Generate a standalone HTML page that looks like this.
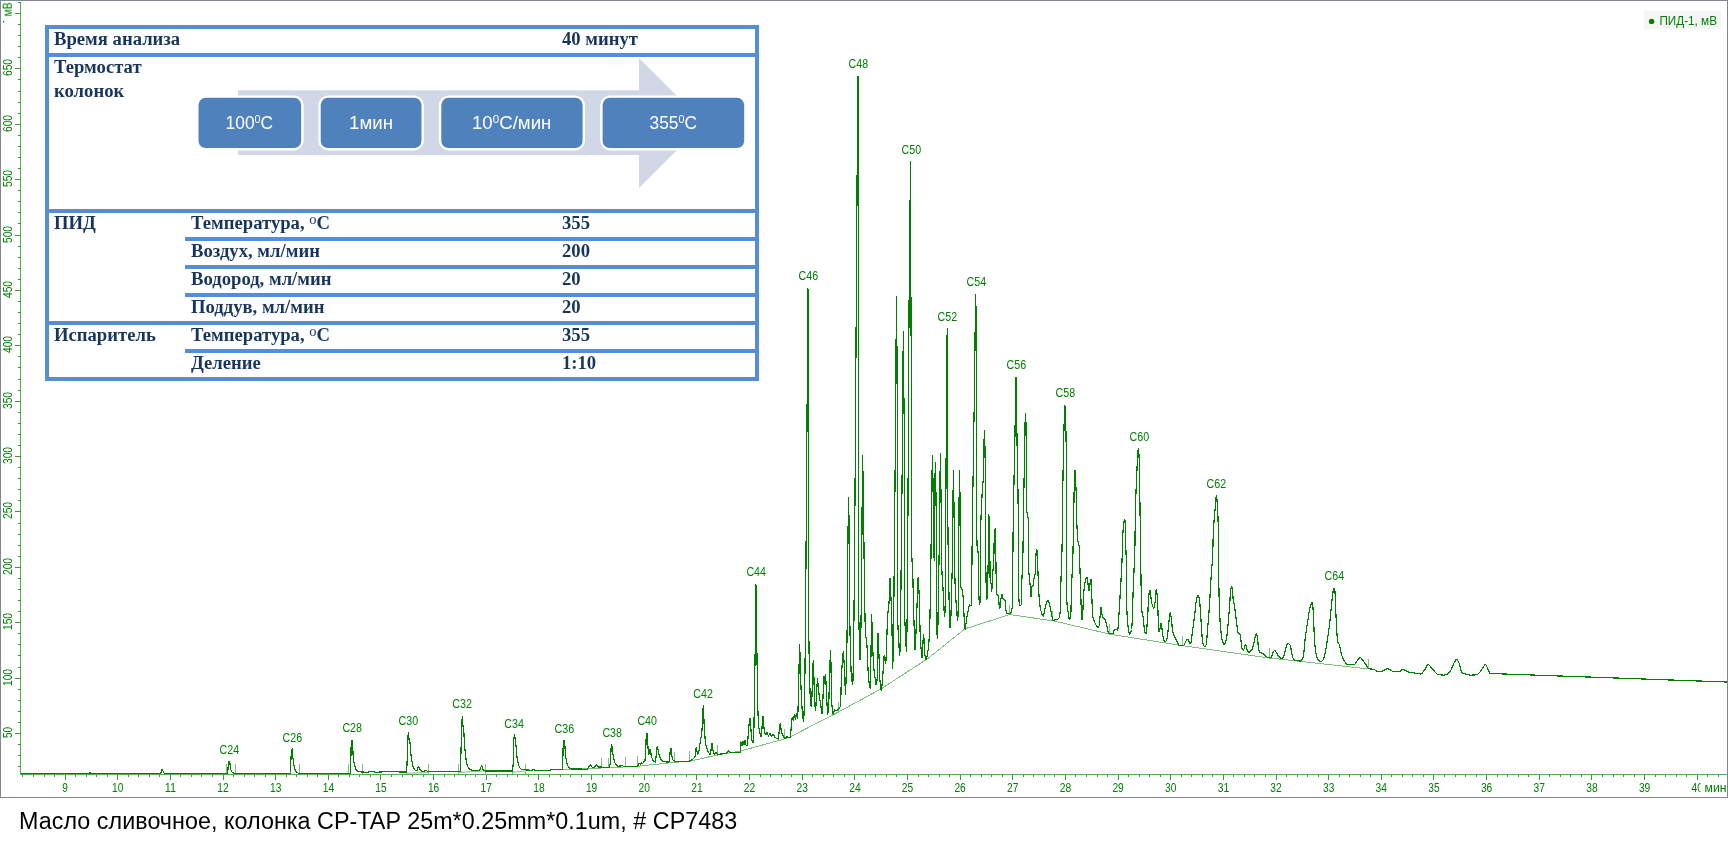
<!DOCTYPE html>
<html lang="ru"><head><meta charset="utf-8"><title>Масло сливочное</title>
<style>
html,body{margin:0;padding:0;background:#fff}
body{width:1728px;height:842px;position:relative;overflow:hidden;font-family:"Liberation Sans",sans-serif}
.abs{position:absolute}
#frame{position:absolute;left:0;top:0;width:1726px;height:796px;border:1px solid #828796;background:#fff}
#chart{position:absolute;left:0;top:0;will-change:transform}
.b{position:absolute;background:#558ed5}
.t{will-change:transform;position:absolute;font-family:"Liberation Serif",serif;font-weight:bold;font-size:18.67px;line-height:24px;color:#17365d;white-space:nowrap}
.dg{font-size:14.5px;font-weight:normal;position:relative;top:-5px}
#cap{will-change:transform;position:absolute;left:18.6px;top:806px;font-size:23.3px;line-height:30px;color:#000;white-space:nowrap;letter-spacing:0.045px}
</style></head><body>
<div id="frame"></div>
<svg id="chart" width="1728" height="842" viewBox="0 0 1728 842">
<g stroke="#359935" stroke-width="1" shape-rendering="crispEdges" fill="none">
<line x1="20.5" y1="2" x2="20.5" y2="774.5" stroke="#58aa58"/>
<line x1="20.5" y1="774.5" x2="1727" y2="774.5" stroke="#58aa58"/>
<path d="M18 766.5H20.5M18 755.5H20.5M18 744.5H20.5M15 733.5H20.5M18 722.5H20.5M18 711.5H20.5M18 700.5H20.5M18 689.5H20.5M15 678.5H20.5M18 667.5H20.5M18 655.5H20.5M18 644.5H20.5M18 633.5H20.5M15 622.5H20.5M18 611.5H20.5M18 600.5H20.5M18 589.5H20.5M18 578.5H20.5M15 567.5H20.5M18 556.5H20.5M18 545.5H20.5M18 534.5H20.5M18 523.5H20.5M15 511.5H20.5M18 500.5H20.5M18 489.5H20.5M18 478.5H20.5M18 467.5H20.5M15 456.5H20.5M18 445.5H20.5M18 434.5H20.5M18 423.5H20.5M18 412.5H20.5M15 401.5H20.5M18 390.5H20.5M18 379.5H20.5M18 367.5H20.5M18 356.5H20.5M15 345.5H20.5M18 334.5H20.5M18 323.5H20.5M18 312.5H20.5M18 301.5H20.5M15 290.5H20.5M18 279.5H20.5M18 268.5H20.5M18 257.5H20.5M18 246.5H20.5M15 235.5H20.5M18 223.5H20.5M18 212.5H20.5M18 201.5H20.5M18 190.5H20.5M15 179.5H20.5M18 168.5H20.5M18 157.5H20.5M18 146.5H20.5M18 135.5H20.5M15 124.5H20.5M18 113.5H20.5M18 102.5H20.5M18 91.5H20.5M18 79.5H20.5M15 68.5H20.5M18 57.5H20.5M18 46.5H20.5M18 35.5H20.5M18 24.5H20.5M15 13.5H20.5M18 2.5H20.5"/>
<path d="M22.5 774.5V777.0M33.5 774.5V777.0M44.5 774.5V777.0M54.5 774.5V777.0M65.5 774.5V780.0M75.5 774.5V777.0M86.5 774.5V777.0M96.5 774.5V777.0M107.5 774.5V777.0M117.5 774.5V780.0M128.5 774.5V777.0M138.5 774.5V777.0M149.5 774.5V777.0M159.5 774.5V777.0M170.5 774.5V780.0M180.5 774.5V777.0M191.5 774.5V777.0M201.5 774.5V777.0M212.5 774.5V777.0M223.5 774.5V780.0M233.5 774.5V777.0M244.5 774.5V777.0M254.5 774.5V777.0M265.5 774.5V777.0M275.5 774.5V780.0M286.5 774.5V777.0M296.5 774.5V777.0M307.5 774.5V777.0M317.5 774.5V777.0M328.5 774.5V780.0M338.5 774.5V777.0M349.5 774.5V777.0M359.5 774.5V777.0M370.5 774.5V777.0M380.5 774.5V780.0M391.5 774.5V777.0M402.5 774.5V777.0M412.5 774.5V777.0M423.5 774.5V777.0M433.5 774.5V780.0M444.5 774.5V777.0M454.5 774.5V777.0M465.5 774.5V777.0M475.5 774.5V777.0M486.5 774.5V780.0M496.5 774.5V777.0M507.5 774.5V777.0M517.5 774.5V777.0M528.5 774.5V777.0M538.5 774.5V780.0M549.5 774.5V777.0M560.5 774.5V777.0M570.5 774.5V777.0M581.5 774.5V777.0M591.5 774.5V780.0M602.5 774.5V777.0M612.5 774.5V777.0M623.5 774.5V777.0M633.5 774.5V777.0M644.5 774.5V780.0M654.5 774.5V777.0M665.5 774.5V777.0M675.5 774.5V777.0M686.5 774.5V777.0M696.5 774.5V780.0M707.5 774.5V777.0M717.5 774.5V777.0M728.5 774.5V777.0M739.5 774.5V777.0M749.5 774.5V780.0M760.5 774.5V777.0M770.5 774.5V777.0M781.5 774.5V777.0M791.5 774.5V777.0M802.5 774.5V780.0M812.5 774.5V777.0M823.5 774.5V777.0M833.5 774.5V777.0M844.5 774.5V777.0M854.5 774.5V780.0M865.5 774.5V777.0M875.5 774.5V777.0M886.5 774.5V777.0M896.5 774.5V777.0M907.5 774.5V780.0M918.5 774.5V777.0M928.5 774.5V777.0M939.5 774.5V777.0M949.5 774.5V777.0M960.5 774.5V780.0M970.5 774.5V777.0M981.5 774.5V777.0M991.5 774.5V777.0M1002.5 774.5V777.0M1012.5 774.5V780.0M1023.5 774.5V777.0M1033.5 774.5V777.0M1044.5 774.5V777.0M1054.5 774.5V777.0M1065.5 774.5V780.0M1075.5 774.5V777.0M1086.5 774.5V777.0M1097.5 774.5V777.0M1107.5 774.5V777.0M1118.5 774.5V780.0M1128.5 774.5V777.0M1139.5 774.5V777.0M1149.5 774.5V777.0M1160.5 774.5V777.0M1170.5 774.5V780.0M1181.5 774.5V777.0M1191.5 774.5V777.0M1202.5 774.5V777.0M1212.5 774.5V777.0M1223.5 774.5V780.0M1233.5 774.5V777.0M1244.5 774.5V777.0M1254.5 774.5V777.0M1265.5 774.5V777.0M1276.5 774.5V780.0M1286.5 774.5V777.0M1297.5 774.5V777.0M1307.5 774.5V777.0M1318.5 774.5V777.0M1328.5 774.5V780.0M1339.5 774.5V777.0M1349.5 774.5V777.0M1360.5 774.5V777.0M1370.5 774.5V777.0M1381.5 774.5V780.0M1391.5 774.5V777.0M1402.5 774.5V777.0M1412.5 774.5V777.0M1423.5 774.5V777.0M1433.5 774.5V780.0M1444.5 774.5V777.0M1455.5 774.5V777.0M1465.5 774.5V777.0M1476.5 774.5V777.0M1486.5 774.5V780.0M1497.5 774.5V777.0M1507.5 774.5V777.0M1518.5 774.5V777.0M1528.5 774.5V777.0M1539.5 774.5V780.0M1549.5 774.5V777.0M1560.5 774.5V777.0M1570.5 774.5V777.0M1581.5 774.5V777.0M1591.5 774.5V780.0M1602.5 774.5V777.0M1613.5 774.5V777.0M1623.5 774.5V777.0M1634.5 774.5V777.0M1644.5 774.5V780.0M1655.5 774.5V777.0M1665.5 774.5V777.0M1676.5 774.5V777.0M1686.5 774.5V777.0M1697.5 774.5V780.0M1707.5 774.5V777.0M1718.5 774.5V777.0"/>
</g>
<g fill="#008000" font-family="Liberation Sans, sans-serif" font-size="12.4px" text-anchor="middle">
<text x="65.1" y="792" textLength="5.6" lengthAdjust="spacingAndGlyphs">9</text>
<text x="117.8" y="792" textLength="11.4" lengthAdjust="spacingAndGlyphs">10</text>
<text x="170.4" y="792" textLength="11.4" lengthAdjust="spacingAndGlyphs">11</text>
<text x="223.0" y="792" textLength="11.4" lengthAdjust="spacingAndGlyphs">12</text>
<text x="275.7" y="792" textLength="11.4" lengthAdjust="spacingAndGlyphs">13</text>
<text x="328.4" y="792" textLength="11.4" lengthAdjust="spacingAndGlyphs">14</text>
<text x="381.0" y="792" textLength="11.4" lengthAdjust="spacingAndGlyphs">15</text>
<text x="433.6" y="792" textLength="11.4" lengthAdjust="spacingAndGlyphs">16</text>
<text x="486.3" y="792" textLength="11.4" lengthAdjust="spacingAndGlyphs">17</text>
<text x="538.9" y="792" textLength="11.4" lengthAdjust="spacingAndGlyphs">18</text>
<text x="591.6" y="792" textLength="11.4" lengthAdjust="spacingAndGlyphs">19</text>
<text x="644.2" y="792" textLength="11.4" lengthAdjust="spacingAndGlyphs">20</text>
<text x="696.9" y="792" textLength="11.4" lengthAdjust="spacingAndGlyphs">21</text>
<text x="749.5" y="792" textLength="11.4" lengthAdjust="spacingAndGlyphs">22</text>
<text x="802.2" y="792" textLength="11.4" lengthAdjust="spacingAndGlyphs">23</text>
<text x="854.9" y="792" textLength="11.4" lengthAdjust="spacingAndGlyphs">24</text>
<text x="907.5" y="792" textLength="11.4" lengthAdjust="spacingAndGlyphs">25</text>
<text x="960.1" y="792" textLength="11.4" lengthAdjust="spacingAndGlyphs">26</text>
<text x="1012.8" y="792" textLength="11.4" lengthAdjust="spacingAndGlyphs">27</text>
<text x="1065.5" y="792" textLength="11.4" lengthAdjust="spacingAndGlyphs">28</text>
<text x="1118.1" y="792" textLength="11.4" lengthAdjust="spacingAndGlyphs">29</text>
<text x="1170.7" y="792" textLength="11.4" lengthAdjust="spacingAndGlyphs">30</text>
<text x="1223.4" y="792" textLength="11.4" lengthAdjust="spacingAndGlyphs">31</text>
<text x="1276.0" y="792" textLength="11.4" lengthAdjust="spacingAndGlyphs">32</text>
<text x="1328.7" y="792" textLength="11.4" lengthAdjust="spacingAndGlyphs">33</text>
<text x="1381.3" y="792" textLength="11.4" lengthAdjust="spacingAndGlyphs">34</text>
<text x="1434.0" y="792" textLength="11.4" lengthAdjust="spacingAndGlyphs">35</text>
<text x="1486.6" y="792" textLength="11.4" lengthAdjust="spacingAndGlyphs">36</text>
<text x="1539.3" y="792" textLength="11.4" lengthAdjust="spacingAndGlyphs">37</text>
<text x="1591.9" y="792" textLength="11.4" lengthAdjust="spacingAndGlyphs">38</text>
<text x="1644.6" y="792" textLength="11.4" lengthAdjust="spacingAndGlyphs">39</text>
<text x="1697.2" y="792" textLength="11.4" lengthAdjust="spacingAndGlyphs">40</text>
<text transform="translate(12.2 732.5) rotate(-90)" textLength="11.2" lengthAdjust="spacingAndGlyphs">50</text>
<text transform="translate(12.2 677.5) rotate(-90)" textLength="17.2" lengthAdjust="spacingAndGlyphs">100</text>
<text transform="translate(12.2 621.5) rotate(-90)" textLength="17.2" lengthAdjust="spacingAndGlyphs">150</text>
<text transform="translate(12.2 566.5) rotate(-90)" textLength="17.2" lengthAdjust="spacingAndGlyphs">200</text>
<text transform="translate(12.2 510.5) rotate(-90)" textLength="17.2" lengthAdjust="spacingAndGlyphs">250</text>
<text transform="translate(12.2 455.5) rotate(-90)" textLength="17.2" lengthAdjust="spacingAndGlyphs">300</text>
<text transform="translate(12.2 400.5) rotate(-90)" textLength="17.2" lengthAdjust="spacingAndGlyphs">350</text>
<text transform="translate(12.2 344.5) rotate(-90)" textLength="17.2" lengthAdjust="spacingAndGlyphs">400</text>
<text transform="translate(12.2 289.5) rotate(-90)" textLength="17.2" lengthAdjust="spacingAndGlyphs">450</text>
<text transform="translate(12.2 234.5) rotate(-90)" textLength="17.2" lengthAdjust="spacingAndGlyphs">500</text>
<text transform="translate(12.2 178.5) rotate(-90)" textLength="17.2" lengthAdjust="spacingAndGlyphs">550</text>
<text transform="translate(12.2 123.5) rotate(-90)" textLength="17.2" lengthAdjust="spacingAndGlyphs">600</text>
<text transform="translate(12.2 67.5) rotate(-90)" textLength="17.2" lengthAdjust="spacingAndGlyphs">650</text>
</g>
<rect x="1700.5" y="780" width="26.5" height="16" fill="#fff"/>
<text x="1704.6" y="792" fill="#008000" font-family="Liberation Sans, sans-serif" font-size="12.4px" textLength="22" lengthAdjust="spacingAndGlyphs">мин</text>
<rect x="1" y="1" width="13" height="24" fill="#fff"/>
<text transform="translate(12.2 16.4) rotate(-90) scale(0.84 1.04)" fill="#008000" font-family="Liberation Sans, sans-serif" font-size="12.4px">мВ</text>
<rect x="3" y="21" width="1.2" height="1.6" fill="#008000"/>
<path d="M562.5 769.4L601.0 768.0L625.4 766.9L637.5 766.3L674.4 762.3L689.4 761.3L717.5 755.0L740.0 751.2L785.0 738.8L790.0 737.0L840.0 711.2L881.2 688.8L927.5 658.8L965.0 628.8L1010.0 614.5L1055.0 621.2L1110.0 634.2L1182.0 645.6L1269.4 658.0L1369.0 669.0" stroke="#7fbf7f" stroke-width="1" fill="none" shape-rendering="crispEdges"/>
<path d="M226.5 774.0V764.0M235.5 774.0V764.0M290.5 774.0V764.0M299.5 774.0V764.0M348.5 774.0V764.0M362.5 774.0V764.0M406.5 774.0V764.0M428.5 774.0V764.0M458.5 774.0V764.0M485.5 774.0V764.0M512.5 774.0V764.0M525.5 774.0V764.0M562.5 769.4V759.4M601.5 768.0V758.0M608.5 767.6V757.6M625.5 766.9V756.9M637.5 766.3V756.3M674.5 762.3V752.3M689.5 761.3V751.3M717.5 755.0V745.0M740.5 751.2V741.2M784.5 738.8V728.8M790.5 737.0V727.0M838.5 711.8V701.8M1009.5 614.7V604.7M1052.5 621.0V611.0M1109.5 634.1V624.1M1182.5 645.6V635.6M1269.5 658.0V648.0M1368.5 669.0V659.0" stroke="#7fbf7f" stroke-width="1" fill="none" shape-rendering="crispEdges"/>
<path d="M406.6 773.2L428.5 772.6M458.5 772.4L485.4 771M512.9 772.2L525.6 771" stroke="#7fbf7f" stroke-width="1" fill="none"/>
<path d="M20.50 773.4L89.00 773.4L89.25 773.1L89.50 772.6L90.60 772.5L90.75 772.6L91.00 773.2L91.25 773.4L160.80 773.4L161.00 773.0L161.60 770.5L162.00 769.5L162.30 769.2L162.50 769.5L163.00 771.0L164.00 773.0L164.25 773.3L227.60 773.4L227.75 772.5L228.30 764.0L228.50 762.5L228.80 761.3L229.60 761.3L229.75 761.9L230.25 766.3L230.75 769.1L231.00 770.0L231.75 771.6L232.30 772.3L233.50 773.1L234.25 773.4L290.40 773.4L290.50 772.5L291.00 758.0L291.25 752.6L291.50 749.5L291.75 749.2L292.00 749.0L292.20 749.0L292.50 752.3L292.80 757.0L294.00 765.6L294.60 768.5L295.25 770.3L295.75 771.2L297.50 772.8L298.50 773.3L350.20 773.4L350.50 768.8L350.80 760.0L351.30 740.5L352.30 740.3L352.50 742.7L353.00 753.3L353.50 758.7L354.25 763.8L354.75 766.1L355.75 769.0L356.25 770.0L357.50 771.1L358.50 771.7L366.75 772.3L372.00 771.5L375.75 772.4L384.25 771.7L406.30 772.0L406.50 771.3L406.75 768.7L407.00 765.0L407.60 742.0L408.00 735.7L408.25 733.4L408.40 733.0L408.50 733.4L409.00 739.4L409.10 740.0L409.25 740.3L409.80 741.0L410.00 742.6L410.60 752.0L411.50 759.2L412.50 764.5L413.00 766.4L414.00 768.8L414.50 769.6L415.00 770.0L416.50 770.5L416.80 770.5L417.00 770.3L418.25 766.6L418.50 766.2L418.75 766.5L420.25 770.5L420.50 770.9L424.00 771.4L424.25 771.3L425.50 770.2L425.75 770.1L426.00 770.0L426.25 770.1L427.25 771.3L428.50 771.8L459.25 771.8L460.30 771.5L460.50 768.6L461.00 751.2L461.50 732.3L462.00 720.3L462.25 716.9L462.40 716.3L462.50 717.0L463.00 727.0L463.60 729.0L463.75 730.5L464.50 744.3L465.50 754.9L466.25 760.6L467.00 764.1L467.75 766.5L468.75 768.1L469.50 769.0L471.75 770.1L479.50 770.3L479.75 770.1L481.25 766.4L481.50 766.0L481.60 766.0L481.75 766.1L483.25 770.0L483.50 770.3L485.25 770.9L512.50 771.0L512.75 769.8L513.10 765.0L513.60 742.0L514.00 737.6L514.25 735.9L514.50 735.1L514.60 735.0L514.75 735.5L515.30 741.0L516.00 746.0L517.00 757.0L517.75 761.7L518.50 764.6L519.25 766.7L519.75 767.7L521.00 769.0L522.00 769.6L532.00 770.3L532.25 770.2L533.25 769.4L533.50 769.3L533.75 769.4L534.75 770.2L550.00 770.3L550.25 770.1L550.80 769.4L562.30 769.4L562.50 767.3L562.80 760.0L563.30 741.5L563.75 740.7L564.00 740.4L564.40 740.3L564.50 740.7L565.50 754.1L566.00 758.4L566.75 762.6L567.75 765.6L568.50 767.1L569.75 768.4L570.50 768.9L587.00 769.2L587.25 769.1L590.00 765.3L590.25 765.1L590.60 765.0L590.75 765.1L591.00 765.4L591.75 766.8L592.00 767.0L593.50 767.5L594.00 767.5L594.25 767.4L596.25 765.3L596.75 765.0L597.00 765.0L597.25 765.3L598.00 766.7L598.30 767.0L609.50 767.3L609.75 766.6L610.30 762.0L611.00 750.0L611.25 746.9L611.50 744.6L611.60 744.4L611.75 744.8L613.25 756.3L614.00 759.9L615.00 763.0L615.50 764.0L616.75 765.6L617.25 766.0L617.80 766.2L620.50 766.0L621.75 765.3L622.00 765.2L622.25 765.3L623.25 766.2L623.50 766.3L637.25 766.3L637.50 766.1L639.00 763.4L639.30 763.2L639.50 763.3L640.00 764.0L640.30 764.2L640.50 764.1L641.25 762.8L641.50 762.6L641.75 762.7L642.50 763.4L642.75 763.3L643.75 761.9L644.50 761.4L644.80 761.0L645.00 760.2L645.25 758.2L645.60 754.0L646.30 734.0L646.75 733.6L647.40 733.4L647.50 734.3L648.00 748.0L648.50 753.3L648.80 754.5L649.00 753.8L649.50 750.6L649.75 749.8L650.00 749.4L650.25 750.1L651.60 757.0L652.50 759.3L653.00 760.2L654.25 761.5L655.00 761.9L655.40 762.0L655.50 761.8L655.75 760.0L656.75 750.1L657.00 748.1L657.25 746.8L657.40 746.6L657.50 746.7L657.75 747.7L659.00 754.8L659.50 756.6L660.25 758.4L661.00 759.5L662.75 761.0L664.00 761.6L668.50 762.2L668.75 762.0L669.00 761.4L669.60 759.0L669.75 757.7L670.25 750.1L670.40 749.0L670.75 748.2L671.00 748.0L671.25 749.6L671.80 756.0L672.50 758.9L672.75 759.6L673.00 760.0L674.00 760.8L674.75 761.2L689.25 761.2L692.50 759.3L694.25 757.8L694.75 757.1L695.00 756.5L695.25 754.7L695.75 749.7L696.00 748.3L696.30 747.5L696.50 748.1L697.00 751.5L697.50 753.5L697.80 754.0L698.00 753.9L698.25 753.6L698.60 753.0L698.75 752.5L700.80 738.0L701.50 734.9L701.80 733.0L702.50 722.1L703.00 710.4L703.25 706.2L703.40 705.4L703.50 706.3L704.00 722.0L705.25 740.8L705.60 744.0L706.00 745.7L708.25 751.8L709.50 753.8L710.00 754.4L710.40 754.5L710.50 754.3L710.75 752.5L711.50 745.3L711.75 743.4L711.90 743.0L712.00 743.2L713.00 750.7L713.25 752.0L713.50 752.7L714.00 753.6L714.25 753.8L714.60 754.0L714.75 753.9L715.00 753.6L715.75 752.2L716.00 752.0L716.25 752.1L717.50 754.1L717.80 754.3L726.00 753.6L726.25 753.5L728.25 751.3L728.50 751.1L728.80 751.0L729.00 751.1L729.75 752.0L730.00 752.2L731.75 752.6L740.40 752.6L740.50 751.8L740.75 746.0L741.00 742.0L741.25 742.5L741.75 745.0L742.00 745.5L742.25 744.8L742.75 741.7L743.00 741.0L743.25 741.5L743.75 744.0L744.00 744.5L744.25 743.9L744.75 741.2L745.00 740.6L745.25 741.2L745.75 744.1L746.00 745.0L746.50 745.7L746.75 745.9L747.00 746.0L747.25 745.2L748.00 738.0L748.80 727.0L749.50 720.5L749.75 719.0L750.00 718.4L750.25 720.0L751.50 737.2L752.00 740.3L752.25 741.4L752.50 742.2L752.80 742.6L753.00 742.2L753.25 740.8L753.75 735.1L754.00 724.6L755.10 655.0L755.50 610.0L755.75 589.7L755.90 584.5L756.00 586.1L756.50 617.9L757.00 660.4L757.40 678.0L757.80 708.0L758.25 719.8L758.75 726.5L759.25 729.8L760.50 736.0L760.75 736.7L761.00 737.0L761.25 736.1L762.25 724.7L762.75 717.6L763.00 716.2L763.25 717.9L763.80 726.0L764.25 730.4L764.60 732.6L765.25 734.2L765.50 734.6L765.75 734.9L766.00 735.0L766.25 734.6L766.75 732.9L767.00 732.5L767.25 732.8L768.25 735.7L768.50 736.0L768.75 735.8L769.75 733.2L770.00 733.0L770.25 733.2L771.25 735.8L771.50 736.0L771.75 735.9L772.75 734.6L773.00 734.5L773.25 734.6L773.75 735.3L774.75 737.2L775.50 737.8L778.00 739.0L778.25 739.0L778.50 737.8L779.75 725.8L780.00 723.9L780.20 723.4L780.50 724.6L781.30 731.0L782.00 733.3L784.00 737.4L784.50 738.0L784.75 738.2L785.00 738.3L785.25 738.2L786.50 736.8L786.75 736.6L787.00 736.5L787.25 736.6L788.25 737.6L788.50 737.7L789.25 737.6L790.20 737.0L790.50 735.4L792.00 718.9L792.30 717.7L792.50 717.9L793.25 719.9L793.40 720.0L793.50 719.8L793.75 718.5L794.25 714.8L794.40 714.5L794.50 714.6L794.75 715.9L795.25 719.2L795.40 719.5L795.50 719.3L795.75 718.0L796.25 714.3L796.40 714.0L796.50 714.1L797.00 717.0L797.30 718.0L797.50 717.5L797.75 715.5L798.00 710.1L798.50 694.0L799.50 645.1L799.75 647.9L800.25 661.4L801.00 687.7L801.50 699.6L802.00 707.9L803.00 718.4L803.25 720.4L803.50 721.3L803.75 719.5L804.00 714.8L804.50 700.0L804.75 688.2L805.50 626.0L807.30 380.0L807.75 298.2L807.90 288.0L808.00 292.7L808.25 337.7L808.50 432.0L808.80 630.0L809.00 648.8L810.00 691.6L810.30 699.0L810.75 703.4L811.00 705.1L811.25 706.0L811.40 706.2L811.50 705.7L811.75 701.3L813.00 664.8L813.30 660.2L813.50 662.9L813.80 672.0L814.25 690.4L815.00 705.2L815.25 708.6L815.50 710.1L815.75 708.7L817.25 681.3L817.50 678.5L817.75 680.2L818.50 690.9L820.75 705.1L821.75 712.6L822.00 713.5L822.25 712.0L823.00 697.5L823.50 682.2L823.80 676.2L824.00 677.5L824.25 681.0L824.50 683.0L824.75 681.0L825.00 677.0L825.30 674.2L825.50 675.1L826.00 682.0L827.25 709.3L827.50 712.9L827.70 714.0L828.00 713.0L828.60 707.0L828.75 704.2L830.25 655.3L830.50 650.8L830.60 650.3L830.75 653.4L831.60 700.0L832.00 706.4L832.75 712.6L833.00 713.9L833.20 714.3L833.50 713.7L834.25 710.4L834.50 710.0L834.75 710.1L835.75 710.9L836.00 711.0L836.25 710.9L836.75 710.6L838.00 709.3L839.00 708.6L839.50 708.0L840.00 707.1L840.25 706.3L840.70 704.0L841.30 679.0L841.75 670.5L843.00 653.4L843.30 651.6L843.50 653.1L844.60 671.0L845.25 690.6L845.50 694.0L845.75 690.2L846.75 653.1L847.25 622.5L847.50 580.0L848.25 515.1L848.50 498.1L848.75 505.2L849.00 520.0L849.40 560.0L849.60 604.0L849.75 617.6L850.25 643.0L851.00 669.0L851.25 674.6L851.50 678.0L852.00 681.9L852.25 683.2L852.50 684.1L852.70 684.3L852.75 684.1L853.00 678.5L853.50 654.0L854.00 614.3L855.00 496.4L857.25 155.7L857.75 93.6L858.00 76.3L858.25 87.6L858.40 110.0L858.60 600.0L858.75 614.4L859.00 627.1L859.50 640.0L859.75 652.3L860.00 659.4L860.25 656.1L860.75 638.8L861.25 606.1L861.75 557.8L862.50 456.0L862.75 461.0L863.50 507.0L864.50 591.0L865.00 617.4L865.25 627.2L865.50 633.0L865.75 635.5L866.50 641.0L867.00 646.5L867.30 651.0L868.00 669.0L868.50 677.7L869.25 684.6L869.75 687.5L870.00 688.1L870.10 688.2L870.25 686.4L870.75 666.8L871.25 636.6L871.50 617.3L871.60 614.4L871.75 616.1L872.50 641.6L873.25 659.7L873.75 667.6L874.50 673.8L875.75 682.8L876.00 684.2L876.30 684.9L876.50 684.5L876.75 683.1L877.20 678.0L877.60 655.0L877.90 633.3L878.00 633.6L878.25 637.0L879.25 663.0L879.75 677.4L880.25 684.1L880.75 688.6L881.00 689.9L881.20 690.2L881.50 689.2L882.25 682.5L883.50 665.5L884.00 656.8L884.20 655.5L884.50 656.6L885.25 661.8L885.50 663.1L885.70 663.5L885.75 663.4L886.00 660.0L887.50 618.7L887.75 614.3L889.00 602.6L889.25 599.0L889.75 580.4L889.90 578.2L890.00 578.7L890.75 594.6L891.25 603.7L891.75 617.4L892.00 627.0L892.50 666.1L892.60 668.6L892.75 667.2L893.00 659.4L893.75 614.9L895.50 430.4L896.25 320.2L896.50 296.8L896.75 317.5L897.25 408.6L897.50 500.0L897.60 612.0L897.75 620.3L898.00 627.8L898.50 635.0L899.25 651.2L899.50 654.6L899.70 655.5L899.75 655.3L900.00 649.5L900.75 606.2L901.75 508.4L902.50 440.6L903.25 332.0L903.50 353.6L903.75 384.8L904.25 425.1L904.40 450.0L904.60 610.0L904.75 617.1L905.00 624.0L905.60 633.0L906.25 650.4L906.40 651.6L906.50 650.9L906.75 643.5L907.40 600.0L907.75 548.2L909.00 313.2L909.50 257.8L909.75 245.5L910.00 227.0L910.30 161.3L911.00 318.1L911.25 358.5L911.50 420.0L911.70 550.0L912.00 560.3L912.50 566.8L912.75 572.5L913.75 615.1L914.75 644.4L915.00 649.1L915.10 649.6L915.25 648.9L915.50 645.3L917.10 603.0L917.60 585.0L918.00 578.4L918.20 577.3L918.50 581.2L919.25 597.2L919.50 604.0L920.00 629.0L920.50 640.8L921.50 654.9L921.75 657.2L922.00 658.1L922.25 656.0L923.25 637.8L923.50 634.9L923.60 634.6L923.75 635.3L924.25 642.9L924.75 653.4L925.25 656.7L925.50 657.9L925.75 658.8L926.00 659.3L926.25 659.4L926.50 659.0L926.75 658.2L928.00 650.6L928.50 646.6L929.00 640.9L929.50 633.0L929.75 626.3L930.50 590.0L932.10 470.0L932.25 462.9L932.50 456.0L932.75 465.6L934.00 555.3L934.20 560.5L935.00 480.0L935.25 466.3L935.40 463.0L935.50 465.3L936.25 514.6L936.40 530.0L936.60 620.0L937.00 632.9L937.25 636.8L937.50 638.4L937.60 638.5L937.75 635.5L938.75 572.1L939.25 549.8L939.50 535.0L940.30 453.2L940.50 459.6L941.25 511.3L941.50 535.0L941.75 566.8L942.00 573.0L942.75 583.7L943.75 602.0L944.25 613.8L944.50 616.3L944.75 615.0L945.00 611.0L945.20 606.0L946.50 395.7L947.00 341.2L947.25 328.3L947.50 400.0L947.75 508.5L948.00 538.5L948.75 585.2L949.50 614.6L949.75 622.3L950.00 626.9L950.10 627.4L950.25 626.9L950.50 624.3L951.00 613.5L951.30 605.0L951.75 584.4L952.25 569.4L952.50 558.0L953.25 476.4L953.40 470.1L953.50 472.1L954.00 508.2L954.60 564.0L955.00 581.3L955.60 597.0L956.00 601.5L956.50 606.0L957.25 617.7L957.50 620.1L957.60 620.3L957.75 619.5L958.00 615.0L958.40 600.0L959.30 471.0L959.50 474.0L960.25 506.9L960.50 529.0L960.70 586.0L961.00 587.6L961.25 588.2L961.75 588.9L962.00 589.3L962.25 590.2L962.75 593.1L963.40 600.0L964.00 615.7L964.50 623.7L964.75 626.7L965.00 628.6L965.20 629.1L965.50 628.1L966.50 619.3L969.00 606.9L969.50 605.3L969.80 605.0L971.25 605.6L971.50 605.6L972.50 509.3L973.30 466.0L974.00 415.9L974.40 400.0L975.25 319.7L975.50 301.9L975.75 294.3L976.00 312.0L976.25 347.6L976.50 410.0L976.65 520.0L976.75 531.7L977.00 544.2L977.25 547.5L977.50 549.1L978.00 551.6L978.30 555.0L978.50 566.1L978.75 588.1L978.90 595.8L979.25 601.9L979.50 604.1L979.60 604.3L979.75 604.0L980.00 602.1L980.30 597.0L980.60 532.4L980.75 525.3L981.00 517.6L982.30 490.0L982.75 484.7L983.25 479.6L983.50 475.0L984.00 445.0L984.25 433.8L984.40 430.9L984.50 431.7L985.00 449.4L985.40 480.0L985.80 565.7L986.25 589.3L986.50 596.2L986.75 598.9L986.80 599.0L987.00 598.1L987.25 594.4L987.75 580.4L988.10 566.4L988.50 530.0L988.75 515.0L989.00 516.7L989.70 524.6L990.00 576.2L990.25 579.7L990.50 581.7L991.00 583.8L991.25 585.2L991.70 591.2L991.75 591.1L992.00 587.8L992.50 575.7L992.75 571.8L993.50 566.7L993.75 563.3L994.25 535.9L994.40 531.8L994.75 530.0L995.00 529.2L995.25 528.7L995.50 528.5L996.00 569.5L996.50 589.9L996.80 594.5L997.00 594.8L997.50 595.1L998.00 595.3L998.25 595.5L998.50 595.8L998.75 598.7L999.00 603.7L999.25 606.5L999.50 607.6L999.80 608.2L1000.00 607.5L1000.80 599.7L1001.50 595.2L1001.80 594.5L1002.00 594.7L1003.00 598.2L1003.25 598.6L1003.75 599.0L1004.50 599.5L1005.10 600.3L1005.25 601.6L1005.75 609.1L1006.25 611.5L1006.75 613.1L1007.00 613.6L1007.30 613.8L1010.30 613.8L1010.50 613.7L1010.75 613.2L1012.00 608.6L1012.30 606.2L1012.50 593.8L1013.30 514.0L1015.00 433.0L1015.75 385.1L1016.00 377.0L1016.25 384.7L1016.50 400.0L1017.00 440.1L1018.00 494.0L1018.30 520.0L1018.50 589.2L1018.75 596.7L1019.00 600.9L1019.25 602.9L1019.75 604.7L1020.00 605.2L1020.25 605.5L1020.50 605.6L1020.75 605.4L1021.00 605.0L1021.40 603.6L1021.75 582.4L1022.00 576.6L1022.50 568.9L1022.75 562.3L1023.30 530.0L1023.75 496.2L1024.50 458.2L1025.00 426.5L1025.25 416.1L1025.40 413.9L1025.50 414.3L1025.75 418.0L1026.00 425.0L1026.25 448.3L1026.60 509.0L1026.75 511.0L1027.00 512.6L1027.50 515.0L1028.00 517.1L1028.30 520.0L1028.60 568.3L1028.75 571.2L1029.00 574.1L1029.50 578.0L1030.60 591.2L1030.90 597.0L1031.00 596.5L1031.50 588.0L1031.60 587.3L1032.00 586.6L1032.75 586.0L1033.00 585.7L1033.25 585.1L1033.80 579.4L1034.00 578.4L1034.75 576.1L1035.10 574.2L1035.25 571.7L1035.80 556.6L1036.25 552.0L1036.50 550.2L1036.80 549.4L1037.00 550.8L1037.25 555.5L1038.75 591.4L1039.30 600.0L1040.00 605.9L1040.75 610.2L1042.00 614.2L1042.50 615.3L1042.75 615.7L1043.00 615.9L1043.25 616.0L1043.50 615.7L1043.75 615.0L1045.50 606.4L1047.00 601.8L1047.50 600.8L1047.75 600.5L1048.00 600.4L1048.25 600.5L1048.50 600.9L1049.00 602.3L1050.50 608.4L1051.75 615.8L1052.50 619.2L1052.75 620.0L1053.00 620.3L1057.25 619.4L1058.25 618.8L1059.00 618.1L1059.30 617.7L1059.50 617.2L1059.75 615.7L1060.25 610.3L1060.80 585.7L1061.75 558.5L1062.10 545.0L1062.75 489.5L1063.75 435.8L1064.50 412.9L1064.75 408.0L1065.00 405.8L1065.25 409.3L1065.75 424.3L1066.00 434.7L1066.10 442.0L1066.70 597.5L1067.00 603.5L1067.25 606.5L1069.00 618.0L1069.25 619.1L1069.50 619.6L1069.60 619.7L1069.75 619.6L1070.00 619.0L1070.25 617.9L1070.75 613.9L1071.00 611.0L1071.50 585.7L1071.75 580.0L1072.50 568.3L1072.75 561.5L1073.25 540.2L1074.25 485.3L1074.50 477.6L1074.75 472.6L1075.00 470.5L1075.25 473.0L1076.25 493.6L1076.90 524.7L1077.25 532.5L1077.50 536.7L1077.80 540.0L1078.00 541.2L1078.75 543.8L1079.10 546.0L1079.50 554.9L1081.25 609.1L1081.50 614.5L1081.75 618.0L1082.00 619.7L1082.25 618.9L1082.80 613.0L1083.30 600.0L1084.00 590.2L1084.75 584.1L1085.50 580.1L1086.00 578.4L1086.30 577.9L1087.00 577.5L1087.25 577.5L1087.50 578.6L1088.50 588.5L1088.75 590.0L1088.90 590.3L1089.00 590.2L1089.25 589.4L1090.50 580.4L1090.75 579.4L1090.90 579.2L1091.00 579.6L1091.25 583.5L1092.50 613.2L1092.80 617.0L1093.25 618.9L1093.75 620.3L1096.75 626.5L1097.25 627.1L1097.50 627.3L1097.75 627.3L1098.00 627.2L1098.50 626.8L1099.00 626.0L1099.40 625.0L1099.50 624.4L1100.50 610.2L1100.75 607.8L1100.90 607.3L1101.00 607.4L1101.25 608.7L1101.75 613.0L1102.00 614.5L1102.75 616.9L1103.30 618.0L1104.00 618.7L1104.75 619.2L1105.25 619.8L1105.50 620.3L1108.25 632.3L1108.50 633.2L1108.75 633.7L1109.00 633.8L1113.10 633.8L1113.25 633.6L1113.50 632.8L1114.00 630.5L1114.25 629.7L1114.40 629.5L1117.70 630.0L1118.00 628.4L1118.75 618.1L1121.75 567.7L1122.25 554.2L1122.50 540.0L1122.75 534.7L1123.50 526.0L1124.00 522.0L1124.50 519.9L1124.80 519.4L1125.00 519.9L1125.30 523.0L1125.50 540.0L1125.75 547.1L1126.00 551.4L1126.25 559.5L1126.80 608.0L1127.25 617.8L1127.75 624.1L1128.75 631.1L1129.25 633.3L1129.50 633.8L1129.75 634.0L1130.00 633.9L1130.25 633.5L1130.75 632.3L1131.50 629.5L1131.75 627.7L1132.30 620.3L1133.00 594.6L1134.75 552.5L1135.00 542.6L1135.30 514.7L1135.75 497.6L1137.30 462.0L1138.00 451.3L1138.25 449.2L1138.40 448.8L1138.50 449.0L1138.75 451.1L1139.30 462.0L1139.50 472.3L1141.00 580.0L1141.50 603.5L1141.80 610.5L1142.25 613.6L1143.00 616.3L1143.40 618.4L1144.25 629.0L1144.50 630.4L1145.25 633.0L1145.50 633.5L1145.75 633.9L1146.00 634.0L1146.25 633.4L1146.50 631.8L1147.25 622.9L1147.75 615.6L1148.50 598.7L1149.00 594.1L1149.50 591.2L1149.75 590.4L1149.90 590.3L1150.00 590.4L1150.25 591.4L1151.25 600.5L1151.60 602.7L1152.75 606.5L1153.25 607.6L1153.50 607.9L1153.80 608.0L1154.00 607.8L1154.25 607.1L1155.25 601.0L1156.00 590.4L1156.20 589.4L1156.50 590.0L1156.75 591.4L1157.25 595.9L1157.50 598.8L1157.75 604.9L1158.25 620.0L1158.75 628.9L1159.00 631.3L1159.10 631.5L1159.25 631.4L1159.50 630.7L1160.75 624.4L1161.00 623.6L1161.20 623.4L1161.50 624.4L1162.50 634.2L1163.50 638.7L1164.00 640.3L1164.25 640.9L1164.50 641.2L1164.75 641.3L1165.50 641.3L1165.75 641.2L1166.00 641.0L1166.50 640.2L1167.25 638.2L1167.50 636.6L1169.50 616.0L1169.75 614.2L1170.00 613.0L1170.20 612.7L1170.50 613.3L1171.00 616.2L1171.50 620.0L1172.25 628.1L1172.75 631.0L1173.50 633.9L1175.25 638.4L1178.75 644.9L1179.25 645.5L1179.75 645.6L1183.50 645.6L1183.75 645.5L1184.25 644.7L1185.25 642.4L1186.75 640.0L1187.25 639.5L1187.50 639.3L1187.75 639.3L1188.00 639.5L1188.50 640.4L1189.50 642.4L1190.25 643.6L1190.50 643.8L1190.75 643.9L1191.00 643.0L1195.00 612.3L1196.00 602.4L1196.30 600.5L1197.25 596.9L1197.75 595.8L1198.00 595.5L1198.25 595.6L1198.50 595.8L1199.00 597.1L1199.50 599.2L1199.75 601.5L1202.10 637.1L1202.75 642.7L1203.10 644.3L1204.00 646.1L1204.50 646.6L1205.10 646.9L1205.25 646.8L1205.50 646.5L1205.75 645.9L1206.25 644.1L1206.60 642.3L1206.75 640.9L1207.30 631.9L1208.75 615.6L1209.75 600.6L1211.60 568.5L1212.25 562.9L1212.50 560.0L1212.75 553.3L1213.25 533.7L1213.50 527.8L1214.75 512.3L1215.50 504.9L1216.00 498.1L1216.25 495.8L1216.40 495.3L1216.50 495.5L1216.75 497.3L1217.25 503.3L1218.00 517.7L1218.20 525.0L1218.50 564.4L1218.80 583.5L1219.25 601.8L1219.75 615.2L1220.25 624.0L1221.00 632.5L1221.75 638.1L1222.25 640.2L1223.25 643.0L1223.75 643.9L1224.00 644.2L1224.30 644.3L1224.50 644.2L1224.75 644.0L1225.25 643.1L1226.00 641.0L1226.50 638.9L1227.30 633.2L1229.25 610.2L1230.50 592.1L1230.80 589.4L1231.25 587.4L1231.50 586.9L1231.60 586.8L1231.75 586.9L1232.00 587.6L1232.50 590.0L1232.75 593.3L1233.00 598.0L1233.25 600.8L1233.50 602.1L1234.25 604.6L1234.50 605.7L1237.50 629.5L1237.75 631.1L1238.10 632.5L1238.50 633.1L1239.50 633.8L1240.00 634.5L1240.25 635.5L1242.00 648.5L1242.30 649.5L1243.00 650.1L1243.40 650.2L1243.50 650.2L1243.75 649.8L1245.00 645.7L1245.25 645.1L1245.50 644.7L1245.60 644.7L1245.75 644.8L1246.00 645.4L1247.00 649.4L1247.30 650.2L1248.25 651.6L1248.75 652.0L1249.25 652.1L1249.75 651.9L1250.75 651.1L1251.75 649.9L1252.50 648.3L1253.50 645.2L1254.50 639.3L1255.50 635.5L1256.00 634.2L1256.25 633.9L1256.40 633.8L1256.50 633.9L1256.75 634.4L1257.25 636.8L1257.75 640.1L1258.50 648.9L1258.75 650.0L1259.25 651.4L1259.75 652.3L1260.50 652.8L1262.75 653.5L1267.50 657.4L1268.00 657.6L1270.50 657.5L1271.10 657.3L1271.25 657.2L1271.50 656.7L1272.60 653.4L1273.75 651.3L1274.25 650.7L1274.50 650.5L1274.75 650.5L1275.00 650.6L1275.50 651.1L1279.00 656.8L1280.75 658.1L1281.75 658.5L1282.25 658.6L1282.50 658.5L1283.00 657.7L1283.75 656.1L1286.25 646.2L1286.75 644.9L1287.50 643.7L1287.75 643.5L1288.00 643.4L1288.25 643.5L1289.75 644.6L1290.30 645.3L1290.50 645.9L1291.75 653.2L1292.50 656.5L1293.00 657.9L1294.00 659.7L1294.50 660.4L1295.10 660.7L1300.50 661.0L1301.00 660.7L1302.00 659.5L1302.50 658.6L1303.00 657.2L1303.60 654.5L1304.00 651.0L1305.25 637.8L1306.00 632.3L1309.25 611.3L1310.50 605.8L1311.50 602.8L1311.80 602.5L1312.00 602.7L1312.25 603.4L1312.75 606.2L1313.00 608.0L1313.25 611.2L1313.80 623.1L1314.30 637.5L1314.75 643.3L1315.75 652.3L1316.25 654.9L1317.00 657.5L1317.50 658.7L1319.25 660.8L1320.25 661.5L1321.00 661.7L1321.50 661.6L1322.25 660.9L1323.25 659.6L1323.75 658.6L1324.80 655.1L1326.25 647.1L1329.25 627.2L1332.75 593.4L1333.50 589.4L1333.75 588.6L1333.90 588.5L1334.00 588.5L1334.25 588.8L1334.50 589.5L1335.00 591.8L1335.25 596.8L1336.00 616.3L1337.25 638.8L1337.50 641.5L1337.60 642.0L1338.00 642.8L1338.75 643.5L1339.10 644.0L1339.50 645.1L1340.50 649.3L1341.25 653.4L1342.25 656.9L1343.25 659.3L1346.25 663.8L1346.75 664.2L1354.75 664.3L1355.00 664.1L1358.00 659.4L1359.50 658.0L1360.25 657.7L1360.50 657.7L1360.75 657.8L1361.25 658.4L1366.25 665.1L1368.00 668.0L1368.50 668.6L1374.25 669.5L1375.00 670.0L1376.25 671.0L1376.80 671.2L1382.25 671.2L1386.75 669.0L1388.00 668.8L1389.25 669.2L1391.25 670.4L1392.50 671.3L1393.25 671.5L1399.75 671.5L1400.25 671.2L1401.60 670.1L1403.00 669.6L1403.75 669.5L1408.50 672.0L1420.80 674.0L1421.25 673.9L1422.00 673.3L1425.00 669.3L1427.00 665.8L1427.50 665.1L1428.00 664.8L1428.30 664.7L1428.75 664.8L1429.50 665.4L1436.50 673.6L1437.75 674.5L1443.50 675.2L1447.00 674.5L1447.75 674.1L1449.25 672.6L1451.25 669.6L1453.75 663.5L1455.50 660.3L1456.00 659.7L1456.50 659.3L1456.75 659.3L1457.00 659.4L1457.50 659.9L1459.25 663.6L1461.25 671.1L1461.75 672.3L1462.00 672.6L1464.00 673.7L1470.75 675.2L1476.75 674.8L1477.50 674.4L1480.25 671.7L1484.50 665.2L1485.00 664.7L1485.25 664.6L1485.50 664.5L1485.75 664.6L1486.25 665.3L1489.50 672.4L1490.00 673.2L1490.50 673.5L1726.60 682.0" stroke="#008000" stroke-width="1.2" fill="none" stroke-linejoin="round" shape-rendering="crispEdges"/>
<g fill="#008000" font-family="Liberation Sans, sans-serif" font-size="12.5px" text-anchor="middle">
<text x="229.4" y="753.8" textLength="19.6" lengthAdjust="spacingAndGlyphs">C24</text>
<text x="292.3" y="741.9" textLength="19.6" lengthAdjust="spacingAndGlyphs">C26</text>
<text x="352.2" y="731.6" textLength="19.6" lengthAdjust="spacingAndGlyphs">C28</text>
<text x="408.4" y="724.6" textLength="19.6" lengthAdjust="spacingAndGlyphs">C30</text>
<text x="462.1" y="707.8" textLength="19.6" lengthAdjust="spacingAndGlyphs">C32</text>
<text x="514.1" y="727.8" textLength="19.6" lengthAdjust="spacingAndGlyphs">C34</text>
<text x="564.4" y="732.5" textLength="19.6" lengthAdjust="spacingAndGlyphs">C36</text>
<text x="612.2" y="736.5" textLength="19.6" lengthAdjust="spacingAndGlyphs">C38</text>
<text x="647.2" y="724.6" textLength="19.6" lengthAdjust="spacingAndGlyphs">C40</text>
<text x="703.1" y="697.5" textLength="19.6" lengthAdjust="spacingAndGlyphs">C42</text>
<text x="756.2" y="575.8" textLength="19.6" lengthAdjust="spacingAndGlyphs">C44</text>
<text x="808.3" y="280.0" textLength="19.6" lengthAdjust="spacingAndGlyphs">C46</text>
<text x="858.4" y="67.8" textLength="19.6" lengthAdjust="spacingAndGlyphs">C48</text>
<text x="911.3" y="154.3" textLength="19.6" lengthAdjust="spacingAndGlyphs">C50</text>
<text x="947.3" y="321.3" textLength="19.6" lengthAdjust="spacingAndGlyphs">C52</text>
<text x="976.3" y="286.3" textLength="19.6" lengthAdjust="spacingAndGlyphs">C54</text>
<text x="1016.3" y="368.8" textLength="19.6" lengthAdjust="spacingAndGlyphs">C56</text>
<text x="1065.3" y="396.8" textLength="19.6" lengthAdjust="spacingAndGlyphs">C58</text>
<text x="1139.3" y="440.8" textLength="19.6" lengthAdjust="spacingAndGlyphs">C60</text>
<text x="1216.4" y="487.5" textLength="19.6" lengthAdjust="spacingAndGlyphs">C62</text>
<text x="1334.3" y="580.0" textLength="19.6" lengthAdjust="spacingAndGlyphs">C64</text>
</g>
<rect x="1644" y="11" width="77" height="18" fill="#f5f5f5"/>
<circle cx="1651.6" cy="21.4" r="2.7" fill="#008000"/>
<text x="1659.4" y="25.3" fill="#008000" font-family="Liberation Sans, sans-serif" font-size="12.4px" textLength="57.6" lengthAdjust="spacingAndGlyphs">ПИД-1, мВ</text>
</svg>
<div class="b" style="left:45px;top:25px;width:714px;height:4px"></div>
<div class="b" style="left:45px;top:377px;width:714px;height:4px"></div>
<div class="b" style="left:45px;top:25px;width:4px;height:356px"></div>
<div class="b" style="left:755px;top:25px;width:4px;height:356px"></div>
<div class="b" style="left:45px;top:53px;width:714px;height:4px"></div>
<div class="b" style="left:45px;top:209px;width:714px;height:4px"></div>
<div class="b" style="left:45px;top:321px;width:714px;height:4px"></div>
<div class="b" style="left:185px;top:237px;width:574px;height:4px"></div>
<div class="b" style="left:185px;top:265px;width:574px;height:4px"></div>
<div class="b" style="left:185px;top:293px;width:574px;height:4px"></div>
<div class="b" style="left:185px;top:349px;width:574px;height:4px"></div>
<div class="t" style="left:54px;top:27px">Время анализа</div>
<div class="t" style="left:562px;top:27px">40 минут</div>
<div class="t" style="left:54px;top:55px">Термостат</div>
<div class="t" style="left:54px;top:79px">колонок</div>
<div class="t" style="left:54px;top:211px">ПИД</div>
<div class="t" style="left:191px;top:211px">Температура, <span class="dg">o</span>C</div>
<div class="t" style="left:562px;top:211px">355</div>
<div class="t" style="left:191px;top:239px">Воздух, мл/мин</div>
<div class="t" style="left:562px;top:239px">200</div>
<div class="t" style="left:191px;top:267px">Водород, мл/мин</div>
<div class="t" style="left:562px;top:267px">20</div>
<div class="t" style="left:191px;top:295px">Поддув, мл/мин</div>
<div class="t" style="left:562px;top:295px">20</div>
<div class="t" style="left:54px;top:323px">Испаритель</div>
<div class="t" style="left:191px;top:323px">Температура, <span class="dg">o</span>C</div>
<div class="t" style="left:562px;top:323px">355</div>
<div class="t" style="left:191px;top:351px">Деление</div>
<div class="t" style="left:562px;top:351px">1:10</div>
<svg class="abs" style="left:190px;top:57px" width="565" height="152" viewBox="190 57 565 152">
<path d="M238 90.2H639V58L704 123L639 188V155H238Z" fill="#d0d8e8"/>
<g fill="#4f81bd" stroke="#fff" stroke-width="4.8" paint-order="stroke">
<rect x="198.5" y="97.8" width="102.7" height="50.2" rx="7.2" ry="7.2"/>
<rect x="320.7" y="97.8" width="100.8" height="50.2" rx="7.2" ry="7.2"/>
<rect x="441.3" y="97.8" width="141.3" height="50.2" rx="7.2" ry="7.2"/>
<rect x="602.6" y="97.8" width="141.6" height="50.2" rx="7.2" ry="7.2"/>
</g>
<g fill="#fff" font-family="Liberation Sans, sans-serif" font-size="18.5px">
<text x="225.6" y="129" textLength="47.5" lengthAdjust="spacingAndGlyphs">100<tspan font-size="11.5px" dy="-6.5">0</tspan><tspan dy="6.5">C</tspan></text>
<text x="349" y="129" textLength="44" lengthAdjust="spacingAndGlyphs">1мин</text>
<text x="472" y="129" textLength="79.4" lengthAdjust="spacingAndGlyphs">10<tspan font-size="11.5px" dy="-6.5">0</tspan><tspan dy="6.5">C/мин</tspan></text>
<text x="649.6" y="129" textLength="47.4" lengthAdjust="spacingAndGlyphs">355<tspan font-size="11.5px" dy="-6.5">0</tspan><tspan dy="6.5">C</tspan></text>
</g>
</svg>
<div id="cap">Масло сливочное, колонка CP-TAP 25m*0.25mm*0.1um, # CP7483</div>
</body></html>
